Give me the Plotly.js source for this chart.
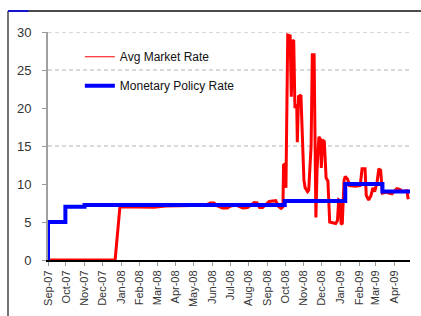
<!DOCTYPE html>
<html>
<head>
<meta charset="utf-8">
<script src="https://cdn.plot.ly/plotly-3.0.1.min.js"></script>
<style>html,body{margin:0;padding:0;background:#fff;}#chart{width:421px;height:316px;}</style>
</head>
<body>
<div id="chart"></div>
<script>
var redDates = ["2007-09-01","2007-12-22","2007-12-30","2008-01-20","2008-02-07","2008-02-25","2008-03-15","2008-04-20","2008-05-20","2008-05-29","2008-06-04","2008-06-10","2008-06-18","2008-06-26","2008-07-03","2008-07-12","2008-07-22","2008-07-30","2008-08-05","2008-08-10","2008-08-15","2008-08-19","2008-08-24","2008-08-30","2008-09-04","2008-09-15","2008-09-20","2008-09-24","2008-09-27","2008-09-28","2008-09-30","2008-10-02","2008-10-05","2008-10-09","2008-10-11","2008-10-13","2008-10-15","2008-10-17","2008-10-20","2008-10-21","2008-10-23","2008-10-27","2008-10-30","2008-11-01","2008-11-03","2008-11-07","2008-11-09","2008-11-12","2008-11-13","2008-11-15","2008-11-18","2008-11-21","2008-11-23","2008-11-26","2008-11-29","2008-11-30","2008-12-02","2008-12-05","2008-12-08","2008-12-11","2008-12-14","2008-12-24","2008-12-27","2008-12-29","2008-12-31","2009-01-02","2009-01-04","2009-01-07","2009-01-09","2009-01-13","2009-01-16","2009-01-26","2009-02-03","2009-02-06","2009-02-11","2009-02-13","2009-02-17","2009-02-21","2009-02-24","2009-02-27","2009-03-03","2009-03-06","2009-03-09","2009-03-12","2009-03-18","2009-03-28","2009-04-02","2009-04-05","2009-04-10","2009-04-14","2009-04-22","2009-04-24"];
var redValues = [0,0,7.0,7.0,6.95,6.95,7.1,7.2,7.2,7.5,7.5,7.1,6.85,6.85,7.15,7.2,6.85,6.9,7.2,7.55,7.5,6.9,6.9,7.3,7.7,7.8,7.0,6.8,7.0,12.5,12.6,9.5,29.6,29.5,21.5,28.9,28.8,20.0,20.5,15.5,21.5,21.7,15.0,10.5,9.5,9.0,9.2,14.5,15.0,27.0,27.0,5.6,12.0,16.2,15.8,12.1,15.8,15.6,10.8,10.4,5.0,4.8,5.2,7.9,7.8,4.8,4.7,10.5,11.0,10.6,9.8,9.7,9.8,12.0,12.0,8.5,7.9,8.5,9.5,9.0,10.2,12.0,11.8,8.8,8.9,8.7,9.1,9.4,9.3,9.0,9.1,8.0];

var blueDates = ["2007-09-01","2007-09-01","2007-09-30","2007-11-01","2008-09-30","2009-01-09","2009-03-12","2009-04-27"];
var blueValues = [0,5,7,7.25,7.75,10,9,9];

var tickDates = ["2007-09-01","2007-10-01","2007-11-01","2007-12-01","2008-01-01","2008-02-01","2008-03-01","2008-04-01","2008-05-01","2008-06-01","2008-07-01","2008-08-01","2008-09-01","2008-10-01","2008-11-01","2008-12-01","2009-01-01","2009-02-01","2009-03-01","2009-04-01"];
var tickLabels = ["Sep-07","Oct-07","Nov-07","Dec-07","Jan-08","Feb-08","Mar-08","Apr-08","May-08","Jun-08","Jul-08","Aug-08","Sep-08","Oct-08","Nov-08","Dec-08","Jan-09","Feb-09","Mar-09","Apr-09"];
var yTicks = [0,5,10,15,20,25,30];
var gridValues = [15,25,30];

var seriesNames = ["Avg Market Rate","Monetary Policy Rate"];

var traces = [
  {x:[null], y:[null], type:"scatter", mode:"lines", name:seriesNames[0], legendgroup:"a",
   line:{color:"#ff0000", width:1}, hoverinfo:"skip"},
  {x:redDates, y:redValues, type:"scatter", mode:"lines", name:seriesNames[0], showlegend:false,
   line:{color:"#ff0000", width:3}},
  {x:blueDates, y:blueValues, type:"scatter", mode:"lines", name:seriesNames[1], legendgroup:"b",
   line:{color:"#0000ff", width:4, shape:"hv"}}
];

var shapes = gridValues.map(function(v){
  return {type:"line", xref:"paper", yref:"y", x0:0, x1:1, y0:v, y1:v, layer:"below",
          line:{color:"#b4b4b4", width:1, dash:"4px,3px"}};
});
// outer frame of the original picture
shapes.push({type:"line", xref:"paper", yref:"paper", x0:-0.1105, x1:1.05, y0:1.092, y1:1.092, line:{color:"#111", width:1.5}});
shapes.push({type:"line", xref:"paper", yref:"paper", x0:-0.1105, x1:-0.1105, y0:1.092, y1:-0.26, line:{color:"#444", width:1.5}});
shapes.push({type:"line", xref:"paper", yref:"paper", x0:-0.1105, x1:-0.054, y0:1.092, y1:1.092, line:{color:"#0000ff", width:1.5}});

var layout = {
  width:421, height:316,
  margin:{l:48, r:11, t:32, b:56},
  paper_bgcolor:"#ffffff", plot_bgcolor:"#ffffff",
  font:{family:"Liberation Sans, Arial, sans-serif", color:"#222"},
  showlegend:true,
  legend:{x:0.088, xanchor:"left", y:0.955, yanchor:"top", bgcolor:"rgba(0,0,0,0)",
          font:{size:12, color:"#111"}, traceorder:"grouped", tracegroupgap:10, itemwidth:30},
  xaxis:{type:"date", range:["2007-09-01","2009-04-27"], tickmode:"array", tickvals:tickDates, ticktext:tickLabels,
         tickangle:-90, tickfont:{size:11, color:"#333"}, showgrid:false, zeroline:false,
         showline:true, linecolor:"#000", linewidth:2, ticks:"outside", ticklen:4, tickcolor:"#999", tickwidth:1},
  yaxis:{range:[0,30], tickmode:"array", tickvals:yTicks, tickfont:{size:13, color:"#333"}, showgrid:false, zeroline:false,
         showline:true, linecolor:"#a0a0a0", linewidth:2, ticks:"outside", ticklen:4, tickcolor:"#999", tickwidth:1,
         ticklabelstandoff:8},
  shapes:shapes
};

Plotly.newPlot("chart", traces, layout, {staticPlot:true, displayModeBar:false});
</script>
</body>
</html>
